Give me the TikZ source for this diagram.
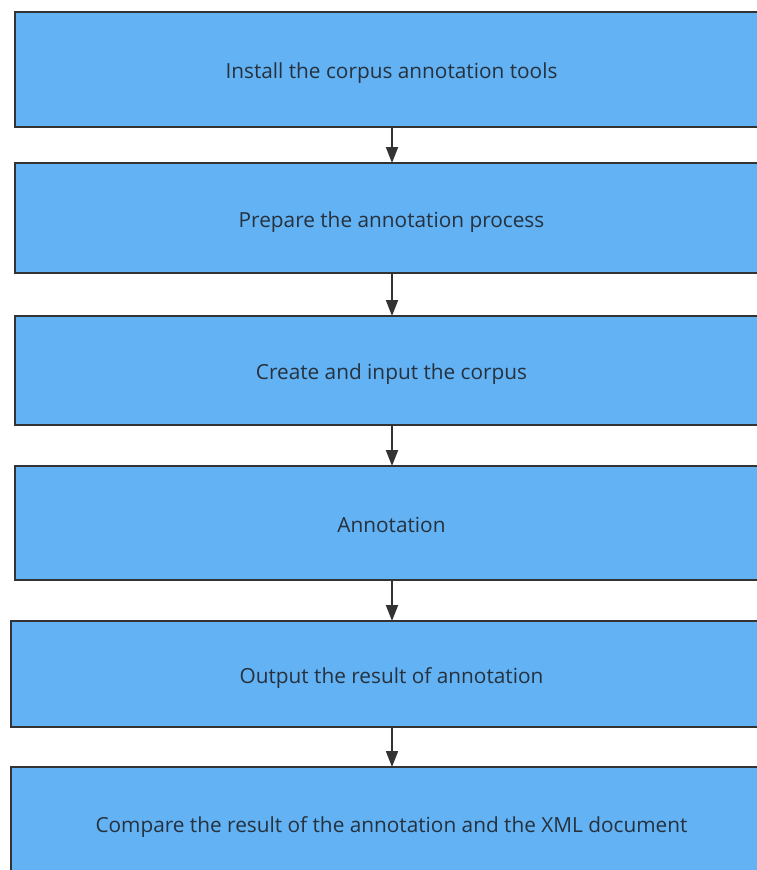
\documentclass[tikz,border=0pt]{standalone}
\usepackage{fontspec}
\setmainfont{Open Sans}
\usetikzlibrary{arrows.meta}
\definecolor{boxfill}{HTML}{62B2F4}
\definecolor{boxline}{HTML}{333333}
\definecolor{txt}{HTML}{26313D}
\tikzset{
  stepbox/.style={draw=boxline, line width=2pt, fill=boxfill, rectangle, inner sep=0pt,
    text=txt, font=\fontsize{20.8}{24}\selectfont, text height=18.5pt, text depth=0pt},
  flow/.style={draw=boxline, line width=2pt, -{Triangle[length=16pt,width=12pt]}, shorten >=-1pt}
}
\begin{document}
\begin{tikzpicture}[x=1pt,y=-1pt]
\useasboundingbox (0,0) rectangle (757,870);
\node[stepbox, minimum width=753pt, minimum height=115pt] (b1) at (391.5,69.5) {Install the corpus annotation tools};
\node[stepbox, minimum width=753pt, minimum height=110pt] (b2) at (391.5,218) {Prepare the annotation process};
\node[stepbox, minimum width=753pt, minimum height=109pt] (b3) at (391.5,370.5) {Create and input the corpus};
\node[stepbox, minimum width=753pt, minimum height=114pt] (b4) at (391.5,523) {Annotation};
\node[stepbox, minimum width=761pt, minimum height=106pt] (b5) at (391.5,674) {Output the result of annotation};
\node[stepbox, minimum width=761pt, minimum height=112pt] (b6) at (391.5,823) {Compare the result of the annotation and the XML document};
\draw[flow] (b1.south -| 392,0) -- (b2.north -| 392,0);
\draw[flow] (b2.south -| 392,0) -- (b3.north -| 392,0);
\draw[flow] (b3.south -| 392,0) -- (b4.north -| 392,0);
\draw[flow] (b4.south -| 392,0) -- (b5.north -| 392,0);
\draw[flow] (b5.south -| 392,0) -- (b6.north -| 392,0);
\end{tikzpicture}
\end{document}
